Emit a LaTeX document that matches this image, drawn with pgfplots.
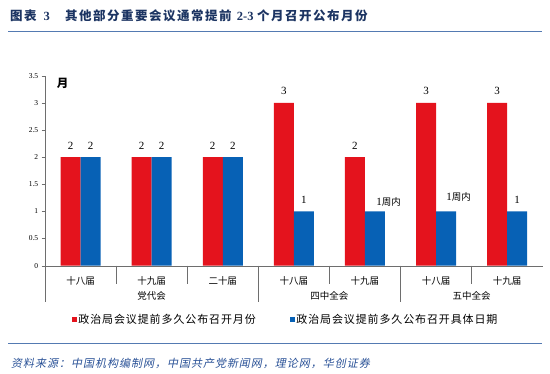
\documentclass[border=0pt]{standalone}
\usepackage{fontspec}
\usepackage{pgfplots}
\usepackage{pgfplotstable}
\pgfplotsset{compat=1.18}
\setmainfont{Liberation Serif}
\newfontfamily\cjk{Noto Sans CJK SC}
\newfontfamily\cjkleg[LetterSpace=8]{Noto Sans CJK SC}
\newfontfamily\cjkt[LetterSpace=12]{Noto Sans CJK SC}
\newfontfamily\cjksrc[FakeSlant=0.2,LetterSpace=9]{Noto Sans CJK SC}
\newcommand\zn[1]{{\cjk\fontsize{9.5}{10}\selectfont #1}}
\definecolor{cred}{RGB}{228,19,29}
\definecolor{cblue}{RGB}{7,97,181}
\definecolor{ctitle}{RGB}{28,52,98}
\definecolor{cline}{RGB}{84,122,178}
\definecolor{csrc}{RGB}{40,80,150}
\definecolor{caxis}{RGB}{110,110,110}

\pgfplotstableread{
x y lab dx dy
0 2 2 0 0
1 2 2 0 0
2 2 2 0 0
3 3 3 0 0
4 2 2 0 0
5 3 3 0 0
6 3 3 0 0
}\redtab
\pgfplotstableread{
x y lab dx dy
0 2 2 0 0
1 2 2 0 0
2 2 2 0 0
3 1 1 0 0
4 1 1\zn{周内} 13.7 -2.4
5 1 1\zn{周内} 12.5 1.9
6 1 1 0 0
}\bluetab

\begin{document}
\begin{tikzpicture}[x=1pt,y=1pt]
\path[use as bounding box] (0,0) rectangle (550,373);
\begin{scope}[every node/.style={anchor=base west, inner sep=0pt, text=ctitle, font=\bfseries\fontsize{12.5}{13}\selectfont}]
\node at (10,352.7) {\cjkt 图表};
\node at (43.3,352.7) {3};
\node at (65,352.7) {\cjkt 其他部分重要会议通常提前};
\node at (236.7,352.7) {2-3};
\node at (257,352.7) {\cjkt 个月召开公布月份};
\end{scope}
\draw[cline, line width=1pt] (8,341) -- (542,341);
\begin{axis}[
  at={(45pt,107.3pt)}, anchor=south west, scale only axis,
  width=497.7pt, height=190pt,
  ybar=0pt, bar width=20pt,
  xmin=-0.5, xmax=6.5, ymin=0, ymax=3.5,
  axis x line*=bottom, axis y line*=left,
  axis line style={caxis,-},
  ytick={0,0.5,1,1.5,2,2.5,3,3.5},
  xtick={0,...,6},
  xticklabels={十八届,十九届,二十届,十八届,十九届,十八届,十九届},
  xticklabel style={font=\cjk\fontsize{9.5}{10}\selectfont, anchor=center, yshift=-12pt},
  x tick style={draw=none},
  y tick style={caxis}, tick align=outside, major tick length=3.3pt,
  yticklabel style={font=\fontsize{7.5}{8}\selectfont},
  /pgf/number format/assume math mode=true,
  clip=false,
  point meta=explicit symbolic,
  nodes near coords,
  visualization depends on={\thisrow{dx}\as\dx},
  visualization depends on={\thisrow{dy}\as\dy},
  nodes near coords style={font=\fontsize{11}{12}\selectfont, anchor=south, inner sep=0pt, xshift={\dx pt}, yshift=7.7pt, yshift={\dy pt}},
  legend style={at={(axis description cs:0.0536,-0.2826)}, anchor=west, draw=none, fill=none, inner sep=0pt,
    font=\cjkleg\fontsize{11}{12}\selectfont, legend columns=2,
    /tikz/every even column/.append style={column sep=33pt}, nodes={inner sep=1pt}},
  legend cell align=left,
]
\addplot[fill=cred, draw=none,
  legend image code/.code={\fill[cred] (0pt,-2.8pt) rectangle (5.6pt,2.8pt);}]
  table[x=x, y=y, meta=lab] {\redtab};
\addlegendentry{政治局会议提前多久公布召开月份}
\addplot[fill=cblue, draw=none,
  legend image code/.code={\fill[cblue] (0pt,-2.8pt) rectangle (5.6pt,2.8pt);}]
  table[x=x, y=y, meta=lab] {\bluetab};
\addlegendentry{政治局会议提前多久公布召开具体日期}
\draw[caxis] (axis cs:0.5,0) -- ++(0pt,-18.6pt);
\draw[caxis] (axis cs:1.5,0) -- ++(0pt,-18.6pt);
\draw[caxis] (axis cs:3.5,0) -- ++(0pt,-18.6pt);
\draw[caxis] (axis cs:5.5,0) -- ++(0pt,-18.6pt);
\draw[caxis] (axis cs:-0.5,0) -- ++(0pt,-36.6pt);
\draw[caxis] (axis cs:2.5,0) -- ++(0pt,-36.6pt);
\draw[caxis] (axis cs:4.5,0) -- ++(0pt,-36.6pt);
\node[font=\cjk\fontsize{9.5}{10}\selectfont, yshift=-30pt] at (axis cs:1,0) {党代会};
\node[font=\cjk\fontsize{9.5}{10}\selectfont, yshift=-30pt] at (axis cs:3.5,0) {四中全会};
\node[font=\cjk\fontsize{9.5}{10}\selectfont, yshift=-30pt] at (axis cs:5.5,0) {五中全会};
\end{axis}
\node[font=\cjk\bfseries\fontsize{11.5}{12}\selectfont] at (62.7,289.7) {月};
\draw[cline, line width=1pt] (8,29.7) -- (542,29.7);
\node[anchor=west, text=csrc, inner sep=0pt] at (11,9.7) {\cjksrc\fontsize{11}{12}\selectfont 资料来源：中国机构编制网，中国共产党新闻网，理论网，华创证券};
\end{tikzpicture}
\end{document}
